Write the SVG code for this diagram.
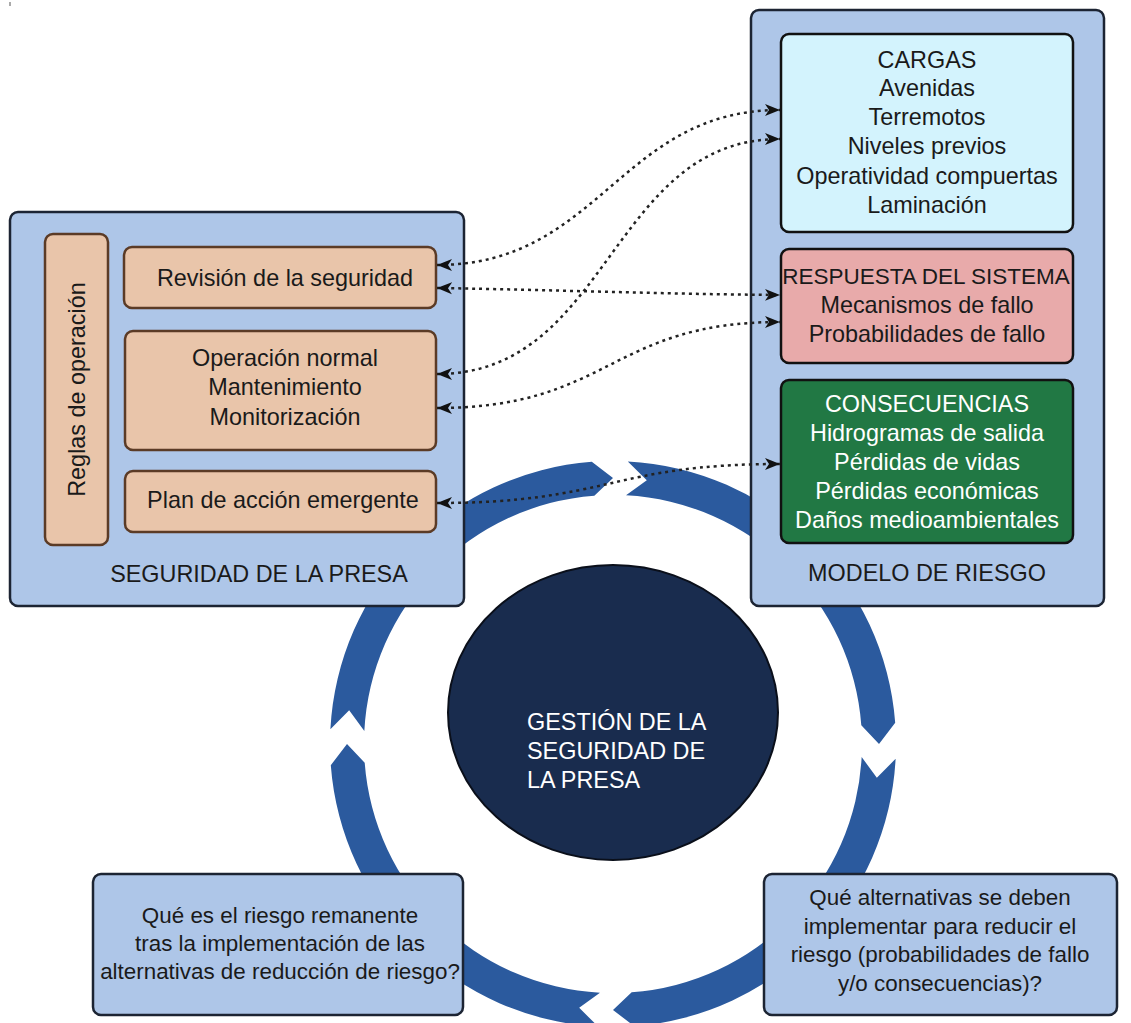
<svg xmlns="http://www.w3.org/2000/svg" width="1131" height="1023" viewBox="0 0 1131 1023">
<defs>
<style>
.t{font-family:"Liberation Sans",Arial,sans-serif;font-size:23.4px;fill:#1a1a1a;text-anchor:middle}
.w{fill:#ffffff}
.big{fill:#aec6e8;stroke:#1c2433;stroke-width:2.5}
.peach{fill:#e9c5aa;stroke:#5b3b26;stroke-width:2.5}
.inner{stroke:#111111;stroke-width:2.5}
.ring{fill:#2b5a9e}
.con{fill:none;stroke:#222222;stroke-width:2.5;stroke-dasharray:3 4;marker-start:url(#ah);marker-end:url(#ah)}
</style>
<marker id="ah" markerUnits="userSpaceOnUse" markerWidth="16" markerHeight="14" refX="15" refY="7" orient="auto-start-reverse">
<path d="M0,1 L15,7 L0,13 L4,7 Z" fill="#111111"/>
</marker>
</defs>
<rect x="9" y="2" width="2" height="4" fill="#aaaaaa"/>
<g id="ring">
<path class="ring" d="M895.61,758.81 A283,283 0 0 1 634.22,1026.20 L613,1010 L631.67,992.30 A249,249 0 0 0 861.66,757.03 L876.84,777.80 Z"/>
<path class="ring" d="M598.19,1026.61 A283,283 0 0 1 330.80,765.22 L347,744 L364.70,762.67 A249,249 0 0 0 599.97,992.66 L579.20,1007.84 Z"/>
<path class="ring" d="M330.39,729.19 A283,283 0 0 1 591.78,461.80 L613,478 L594.33,495.70 A249,249 0 0 0 364.34,730.97 L349.16,710.20 Z"/>
<path class="ring" d="M627.81,461.39 A283,283 0 0 1 895.20,722.78 L879,744 L861.30,725.33 A249,249 0 0 0 626.03,495.34 L646.80,480.16 Z"/>
</g>
<g id="center">
<ellipse cx="613" cy="712.5" rx="165" ry="147.5" fill="#192c4e" stroke="#0a0f1a" stroke-width="2"/>
<text class="t w" style="text-anchor:start"><tspan x="527" y="730">GESTIÓN DE LA</tspan><tspan x="527" y="759">SEGURIDAD DE</tspan><tspan x="527" y="788">LA PRESA</tspan></text>
</g>
<g id="seguridad">
<rect class="big" x="10" y="212" width="454" height="394" rx="8"/>
<text class="t" x="259" y="582">SEGURIDAD DE LA PRESA</text>
</g>
<g id="reglas">
<rect class="peach" x="45" y="234" width="63" height="311" rx="8"/>
<text class="t" transform="translate(85,389.5) rotate(-90)" x="0" y="0">Reglas de operación</text>
</g>
<g id="revision">
<rect class="peach" x="124" y="247" width="312" height="61" rx="8"/>
<text class="t" x="285" y="286">Revisión de la seguridad</text>
</g>
<g id="operacion">
<rect class="peach" x="125" y="331" width="311" height="119" rx="8"/>
<text class="t"><tspan x="285" y="366">Operación normal</tspan><tspan x="285" y="395">Mantenimiento</tspan><tspan x="285" y="425">Monitorización</tspan></text>
</g>
<g id="plan">
<rect class="peach" x="125" y="471" width="311" height="61" rx="8"/>
<text class="t" x="283" y="508">Plan de acción emergente</text>
</g>
<g id="modelo">
<rect class="big" x="751" y="10" width="353" height="596" rx="8"/>
<text class="t" x="927" y="581">MODELO DE RIESGO</text>
</g>
<g id="cargas">
<rect class="inner" fill="#d3f3fd" x="781" y="34" width="292" height="198" rx="8"/>
<text class="t"><tspan x="927" y="68">CARGAS</tspan><tspan x="927" y="96">Avenidas</tspan><tspan x="927" y="125">Terremotos</tspan><tspan x="927" y="154">Niveles previos</tspan><tspan x="927" y="184">Operatividad compuertas</tspan><tspan x="927" y="213">Laminación</tspan></text>
</g>
<g id="respuesta">
<rect class="inner" fill="#e8aaaa" x="781" y="249" width="292" height="114" rx="8"/>
<text class="t"><tspan x="926" y="284" style="font-size:22.5px">RESPUESTA DEL SISTEMA</tspan><tspan x="927" y="313">Mecanismos de fallo</tspan><tspan x="927" y="342">Probabilidades de fallo</tspan></text>
</g>
<g id="consecuencias">
<rect class="inner" fill="#217844" x="781" y="380" width="292" height="163" rx="8"/>
<text class="t w"><tspan x="927" y="412">CONSECUENCIAS</tspan><tspan x="927" y="441">Hidrogramas de salida</tspan><tspan x="927" y="470">Pérdidas de vidas</tspan><tspan x="927" y="499">Pérdidas económicas</tspan><tspan x="927" y="528">Daños medioambientales</tspan></text>
</g>
<g id="remanente">
<rect class="big" x="93" y="874" width="370" height="141" rx="8"/>
<text class="t" style="font-size:22.4px"><tspan x="280" y="923">Qué es el riesgo remanente</tspan><tspan x="280" y="951">tras la implementación de las</tspan><tspan x="280" y="979">alternativas de reducción de riesgo?</tspan></text>
</g>
<g id="alternativas">
<rect class="big" x="764" y="874" width="353" height="141" rx="8"/>
<text class="t" style="font-size:22.4px"><tspan x="940" y="905">Qué alternativas se deben</tspan><tspan x="940" y="934">implementar para reducir el</tspan><tspan x="940" y="962">riesgo (probabilidades de fallo</tspan><tspan x="940" y="991">y/o consecuencias)?</tspan></text>
</g>
<g id="connectors">
<path class="con" d="M437,265 C600,265 620,110 780,110"/>
<path class="con" d="M437,288 C560,290 660,294 780,295"/>
<path class="con" d="M437,374 C610,374 610,139 780,139"/>
<path class="con" d="M437,408 C610,408 610,322 780,322"/>
<path class="con" d="M437,503 C610,503 610,464 780,464"/>
</g>
</svg>
